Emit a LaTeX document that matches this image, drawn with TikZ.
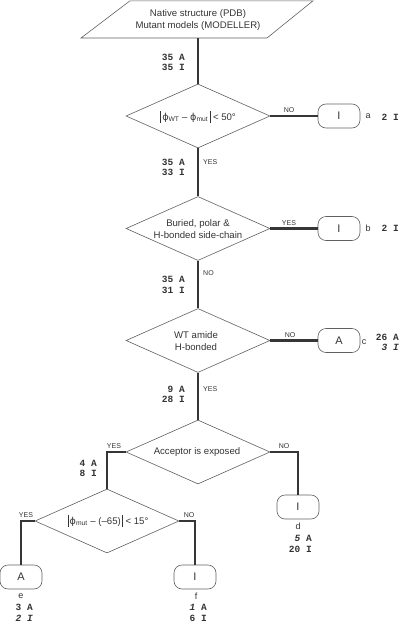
\documentclass[tikz,border=0pt]{standalone}
\usepackage{fontspec}
\setmainfont{Liberation Sans}
\setmonofont{Liberation Mono}
\newfontfamily\dvs{DejaVu Sans}
\usetikzlibrary{shapes.geometric}
\definecolor{thickc}{HTML}{363636}
\definecolor{thinc}{HTML}{606060}
\definecolor{txt}{HTML}{333333}
\newcommand\absbar{\rule[-3pt]{0.5pt}{12pt}}
\newcommand\phiv{{\dvs ϕ}}
\tikzset{
  dec/.style={shape=diamond, draw=thinc, line width=0.6pt, minimum width=144pt, minimum height=64pt, inner sep=0pt},
  dtext/.style={align=center, font=\fontsize{9.6}{11.5}\selectfont, text=txt, inner sep=0pt},
  term/.style={draw=thinc, line width=0.6pt, rounded corners=8pt, minimum width=42pt, minimum height=24pt, inner sep=0pt, font=\fontsize{11}{13}\selectfont, text=txt},
  flow/.style={draw=thickc, line width=2.5pt},
  yn/.style={font=\fontsize{7}{8}\selectfont, text=txt, inner sep=0pt},
  cnt/.style={font=\fontsize{9.5}{10.5}\selectfont\ttfamily\bfseries, align=right, text=txt, inner sep=0pt, anchor=east},
  lab/.style={font=\fontsize{9}{11}\selectfont, text=txt, inner sep=0pt},
}
\begin{document}
\begin{tikzpicture}[x=1pt,y=-1pt]
\useasboundingbox (0,0) rectangle (400,624);
% source
\node[dtext] (src) at (198,20) {Native structure (PDB)\\Mutant models (MODELLER)};
\draw[draw=thinc, line width=0.6pt] (130,0.8) -- (313,0.8) -- (267,38) -- (81,38) -- cycle;
\coordinate (srcb) at (198,38);
% decisions
\node[dec] (d1) at (198,116) {};
\node[dtext] (t1) at (198,117) {\absbar\,\phiv\textsubscript{WT} – \phiv\textsubscript{mut}\,\absbar{} < 50°};
\node[dec] (d2) at (198,228.5) {};
\node[dtext] (t2) at (198,229) {Buried, polar \&\\H-bonded side-chain};
\node[dec] (d3) at (198,340.5) {};
\node[dtext] (t3) at (196,341) {WT amide\\H-bonded};
\node[dec] (d4) at (198,452) {};
\node[dtext] (t4) at (197,452) {Acceptor is exposed};
\node[dec] (d5) at (107,521) {};
\node[dtext] (t5) at (108,521) {\absbar\,\phiv\textsubscript{mut} – (–65)\,\absbar{} < 15°};
% terminals
\node[term] (ta) at (339,116) {I};
\node[term] (tb) at (339,228.5) {I};
\node[term] (tc) at (339,340.5) {A};
\node[term] (td) at (298,507) {I};
\node[term] (te) at (21,577) {A};
\node[term] (tf) at (195,577) {I};
% connectors
\draw[flow] (srcb) -- (d1.north);
\draw[flow] (d1.east) -- (ta.west);
\draw[flow] (d1.south) -- (d2.north);
\draw[flow] (d2.east) -- (tb.west);
\draw[flow] (d2.south) -- (d3.north);
\draw[flow] (d3.east) -- (tc.west);
\draw[flow] (d3.south) -- (d4.north);
\draw[flow] (d4.west) -| (d5.north);
\draw[flow] (d4.east) -| (td.north);
\draw[flow] (d5.west) -| (te.north);
\draw[flow] (d5.east) -| (tf.north);
% yes/no labels
\node[yn] (y1) at (289,110) {NO};
\node[yn, anchor=west] (y2) at (203,162) {YES};
\node[yn] (y3) at (289,223) {YES};
\node[yn, anchor=west] (y4) at (203,273) {NO};
\node[yn] (y5) at (290,335) {NO};
\node[yn, anchor=west] (y6) at (203,389) {YES};
\node[yn] (y7) at (114,446) {YES};
\node[yn] (y8) at (284,446) {NO};
\node[yn] (y9) at (26,515) {YES};
\node[yn] (y10) at (189,515) {NO};
% counts
\node[cnt] (c0) at (185,62.5) {35 A\\35 I};
\node[cnt] (c1) at (185,167.5) {35 A\\33 I};
\node[cnt] (c2) at (185,285) {35 A\\31 I};
\node[cnt] (c3) at (185,394.5) {9 A\\28 I};
\node[cnt] (c4) at (97,468.5) {4 A\\8 I};
\node[cnt] (ca) at (399,117) {2 I};
\node[cnt] (cb) at (399,228.5) {2 I};
\node[cnt] (cc) at (399,342.5) {26 A\\\textit{3 I}};
\node[cnt] (cd) at (312,544) {\textit{5} A\\20 I};
\node[cnt] (ce) at (33,613) {3 A\\\textit{2 I}};
\node[cnt] (cf) at (207,613) {\textit{1} A\\6 I};
% leaf letters
\node[lab] (la) at (368,116) {a};
\node[lab] (lb) at (368,228) {b};
\node[lab] (lc) at (364,342) {c};
\node[lab] (ld) at (298,526) {d};
\node[lab] (le) at (21,596) {e};
\node[lab] (lf) at (196,596) {f};
\end{tikzpicture}
\end{document}
